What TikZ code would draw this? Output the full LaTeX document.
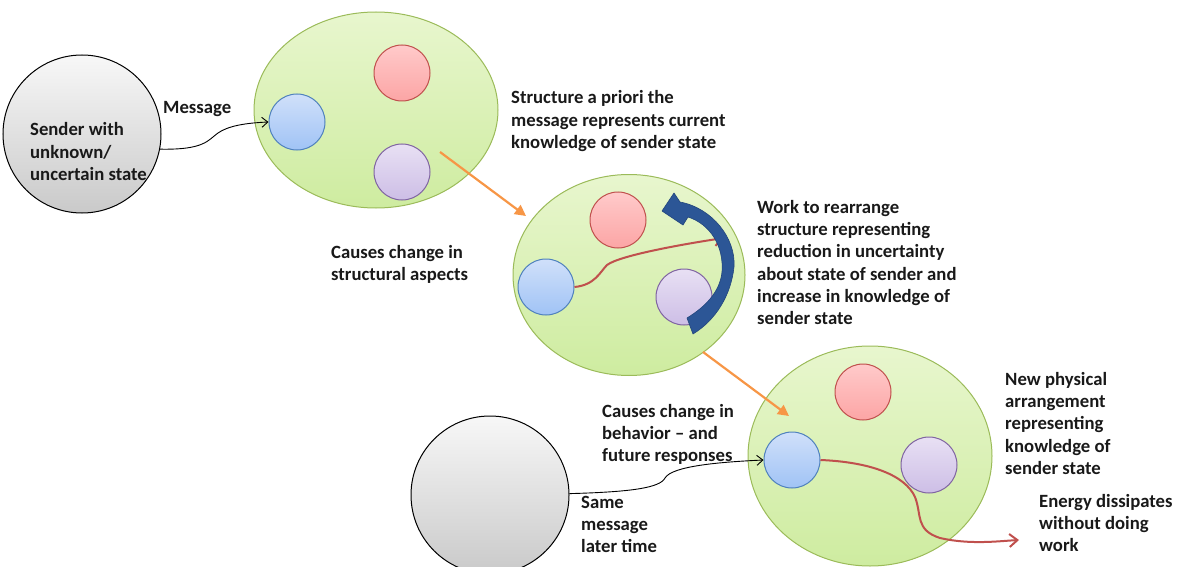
\documentclass[tikz,border=0pt]{standalone}
\usepackage{fontspec}
\setmainfont{Carlito}
\usetikzlibrary{shapes.geometric,arrows.meta}

\definecolor{greenline}{RGB}{155,187,89}
\definecolor{greentop}{RGB}{232,246,206}
\definecolor{greenbot}{RGB}{206,236,160}
\definecolor{redline}{RGB}{192,80,77}
\definecolor{redtop}{RGB}{255,202,202}
\definecolor{redbot}{RGB}{252,165,165}
\definecolor{blueline}{RGB}{79,129,189}
\definecolor{bluetop}{RGB}{208,224,250}
\definecolor{bluebot}{RGB}{160,195,245}
\definecolor{purpline}{RGB}{128,100,162}
\definecolor{purptop}{RGB}{232,224,244}
\definecolor{purpbot}{RGB}{205,190,230}
\definecolor{orangeline}{RGB}{247,150,70}
\definecolor{swoosh}{RGB}{44,86,150}
\definecolor{swooshedge}{RGB}{35,70,125}

\newcommand\stacklines[1]{\begin{tabular}[t]{@{}l@{}}#1\end{tabular}}

\tikzset{
  blob/.style={ellipse, inner sep=0, draw=greenline, line width=1pt,
    top color=greentop, bottom color=greenbot},
  ball/.style={circle, inner sep=0, minimum size=56pt, line width=1pt},
  redball/.style={ball, draw=redline, top color=redtop, bottom color=redbot},
  blueball/.style={ball, draw=blueline, top color=bluetop, bottom color=bluebot},
  purpball/.style={ball, draw=purpline, top color=purptop, bottom color=purpbot},
  source/.style={circle, inner sep=0, minimum size=158pt, draw=black, line width=1pt,
    top color=gray!6, bottom color=gray!42},
  lbl/.style={anchor=base west, inner sep=0, text=black!90,
    font=\fontsize{18.7}{22.4}\selectfont\bfseries},
  msg/.style={draw=black, line width=0.9pt, -{Straight Barb[length=6pt,width=10pt]}},
  flow/.style={draw=redline, line width=2pt, -{Straight Barb[length=8pt,width=13pt]}},
  stagearrow/.style={draw=orangeline, line width=2.2pt, -{Triangle[length=11pt,width=11pt]}},
}

\begin{document}
\begin{tikzpicture}[x=1pt,y=-1pt]
\useasboundingbox (0,0) rectangle (1178,567);

% senders
\node[source] (sender) at (82,134) {};
\node[source] (sender2) at (490,495) {};

% the three stages of the receiving structure
\node[blob, minimum width=244pt, minimum height=196pt] (g1) at (376,110) {};
\node[blob, minimum width=232pt, minimum height=201pt] (g2) at (629,275) {};
\node[blob, minimum width=244pt, minimum height=220pt] (g3) at (870,456) {};

\node[redball]  (r1) at (402,73)  {};
\node[blueball] (b1) at (297,122) {};
\node[purpball] (p1) at (402,172) {};

\node[redball]  (r2) at (618,220) {};
\node[blueball] (b2) at (546,287) {};
\node[purpball] (p2) at (684,297) {};

\node[redball]  (r3) at (863,392) {};
\node[blueball] (b3) at (792,460) {};
\node[purpball] (p3) at (929,465) {};

% incoming messages
\draw[msg] (sender.-11) .. controls (205,150) and (208,140) .. (218,133)
  .. controls (228,126) and (245,123) .. (b1.west);
\draw[msg] (sender2.1) .. controls (630,492) and (660,488) .. (665,478)
  .. controls (672,466) and (720,462) .. (b3.west);

% transitions between stages
\coordinate (o1s) at (440,152);
\coordinate (o1e) at (526,216);
\coordinate (o2s) at (703,352);
\coordinate (o2e) at (789,416);
\draw[stagearrow] (o1s) -- (o1e);
\draw[stagearrow] (o2s) -- (o2e);

% energy flows
\coordinate (w2) at (724,238);
\draw[flow] (b2.east) .. controls (595,285) and (600,272) .. (607,265)
  .. controls (620,255) and (690,243) .. (w2);
\coordinate (w3) at (1019,540);
\draw[flow] (b3.east) .. controls (870,462) and (905,475) .. (915,497)
  .. controls (922,515) and (915,530) .. (940,538)
  .. controls (970,545) and (1000,541) .. (w3);

% rearranging work: curved block arrow with a barbed head
\fill[swoosh, draw=swooshedge, line width=0.6pt, line join=round]
  (662,211) -- (674,193) -- (680,202)
  .. controls (712,208) and (736,238) .. (734,267)
  .. controls (731,295) and (716,320) .. (693,334)
  -- (687,318)
  .. controls (705,307) and (720,292) .. (722,272)
  .. controls (724,246) and (710,224) .. (688,217)
  -- (683,225) -- cycle;

% labels
\node[lbl] (tsender) at (30,136) {\stacklines{Sender with\\unknown/\\uncertain state}};
\node[lbl] (tmsg) at (163,114) {Message};
\node[lbl] (tstruct) at (511,104) {\stacklines{Structure a priori the\\message represents current\\knowledge of sender state}};
\node[lbl] (tcause1) at (331,258) {\stacklines{Causes change in\\structural aspects}};
\node[lbl] (twork) at (757,213) {\stacklines{Work to rearrange\\structure representing\\reduction in uncertainty\\about state of sender and\\increase in knowledge of\\sender state}};
\node[lbl] (tcause2) at (602,417) {\stacklines{Causes change in\\behavior -- and\\future responses}};
\node[lbl] (tsame) at (581,508) {\stacklines{Same\\message\\later time}};
\node[lbl] (tnew) at (1005,385) {\stacklines{New physical\\arrangement\\representing\\knowledge of\\sender state}};
\node[lbl] (tenergy) at (1039,507) {\stacklines{Energy dissipates\\without doing\\work}};
\end{tikzpicture}
\end{document}
